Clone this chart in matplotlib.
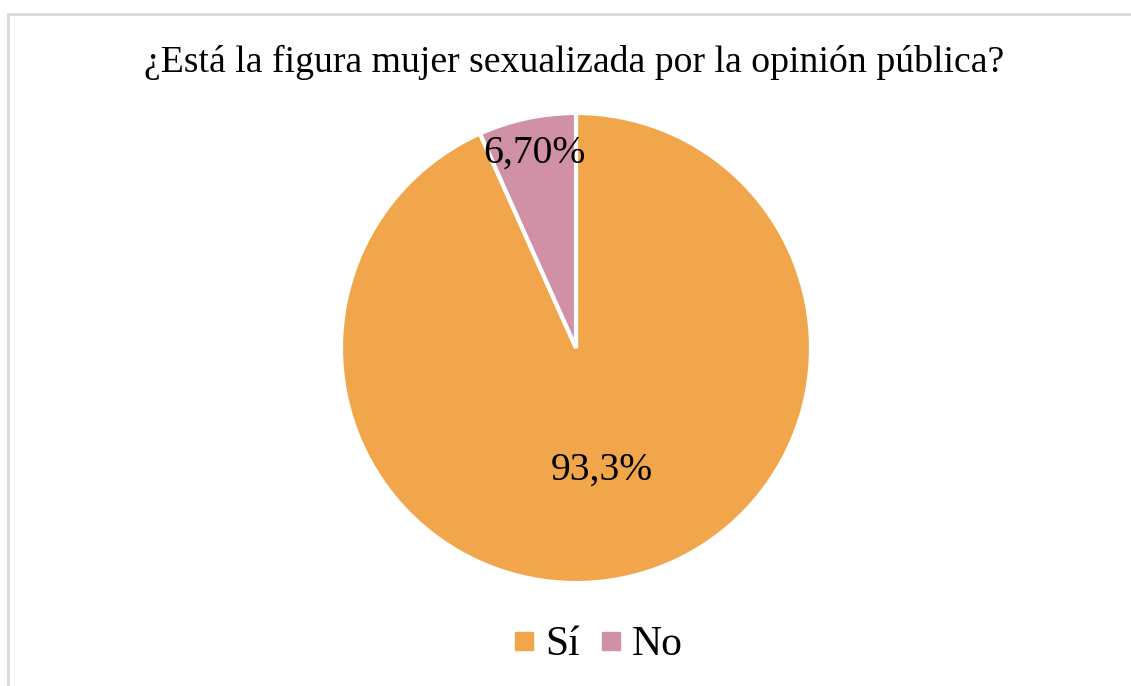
import numpy as np
import matplotlib.pyplot as plt
from matplotlib.patches import Rectangle
from matplotlib.lines import Line2D

title = "¿Está la figura mujer sexualizada por la opinión pública?"
categories = ["Sí", "No"]
values = [93.3, 6.7]
value_labels = ["93,3%", "6,70%"]
colors = ["#F2A64C", "#D091A6"]

W, H = 1131, 686
fig = plt.figure(figsize=(W / 100, H / 100), dpi=100)
plt.rcParams['font.family'] = ['Liberation Serif', 'DejaVu Serif']

# chart border (left/top visible)
fig.add_artist(Rectangle((8 / W, -0.05), 1.2, (H - 14) / H + 0.05, transform=fig.transFigure,
                         fill=False, edgecolor="#D9D9D9", linewidth=2))

cx, cy, r = 576, 348, 235
ax = fig.add_axes([(cx - r) / W, (H - cy - r) / H, 2 * r / W, 2 * r / H])
wedges, _ = ax.pie(values, colors=colors, startangle=90, counterclock=False,
                   wedgeprops=dict(edgecolor="white", linewidth=3), radius=1.0)
ax.set_xlim(-1, 1)
ax.set_ylim(-1, 1)
ax.set_aspect('equal')
ax.axis('off')

label_dist = [0.53, 0.85]
for w, lab, d in zip(wedges, value_labels, label_dist):
    ang = np.deg2rad((w.theta1 + w.theta2) / 2)
    ax.text(d * np.cos(ang), d * np.sin(ang), lab, ha='center', va='center',
            fontsize=28.5, color='black')

fig.text(574 / W, 1 - 62 / H, title, ha='center', va='center', fontsize=27.2)

handles = [Line2D([], [], marker='s', linestyle='none', markersize=13,
                  markerfacecolor=c, markeredgecolor=c) for c in colors]
fig.legend(handles, categories, loc='center', bbox_to_anchor=(597 / W, 1 - 645 / H),
           ncol=2, frameon=False, fontsize=30, handletextpad=0.2, columnspacing=0.45,
           handlelength=0.6)

fig.savefig("out.png", dpi=100, facecolor="white")
